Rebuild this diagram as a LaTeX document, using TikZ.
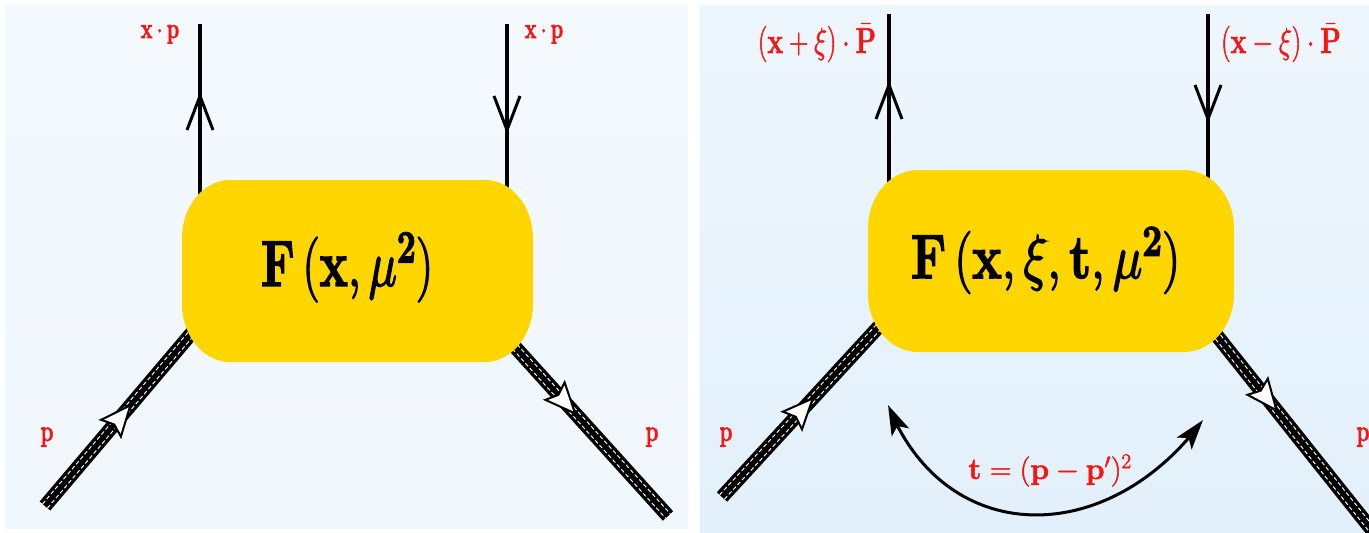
\RequirePackage{fix-cm}
\documentclass[tikz,border=0pt]{standalone}
\usepackage{graphicx}
\usetikzlibrary{arrows.meta,decorations.markings,bending}
\definecolor{blobgold}{RGB}{255,214,0}
\definecolor{bgLt}{RGB}{244,249,254}
\definecolor{bgLb}{RGB}{240,247,253}
\definecolor{bgRt}{RGB}{238,246,253}
\definecolor{bgRb}{RGB}{226,240,251}
\definecolor{lblred}{RGB}{250,20,20}
\newcommand\sqz[2]{\scalebox{#1}[1]{#2}}
\newcommand\fat[2]{\special{pdf:literal direct #1 w 2 Tr}#2\special{pdf:literal direct 0 Tr}}
\tikzset{
  lbl/.style={text=lblred, inner sep=0pt, anchor=base},
  bigtxt/.style={text=black, inner sep=0pt, anchor=center, font=\fontsize{60}{72}\selectfont},
  quark/.style={line width=4.5pt, line cap=butt},
  vmark/.style={postaction={decorate, decoration={markings, mark=at position #1 with {\draw[black, line width=3pt, line cap=butt, miter limit=20] (-34pt,13pt) -- (0pt,0pt) -- (-34pt,-13pt);}}}},
  hadron/.style={line width=14pt, black, line cap=butt,
    postaction={draw=white, line width=7.4pt, dash pattern=on 4pt off 2.5pt},
    postaction={draw=black, line width=5.2pt}},
  tmark/.style={postaction={decorate, decoration={markings, mark=at position #1 with {\draw[draw=black, fill=white, line width=2pt, line join=miter] (0pt,0pt) -- (-30pt,13pt) -- (-25pt,0pt) -- (-30pt,-13pt) -- cycle;}}}},
  blobfill/.style={fill=blobgold}
}
\begin{document}
\begin{tikzpicture}[x=1pt,y=-1pt]
\useasboundingbox (0,0) rectangle (1369,533);
\fill[white] (0,0) rectangle (1369,533);
\shade[top color=bgLt, bottom color=bgLb] (5,5) rectangle (688,528);
\shade[top color=bgRt, bottom color=bgRb] (700,5) rectangle (1369,533);

% ---------------- left panel ----------------
\coordinate (L-qa) at (200,205);
\coordinate (L-qa-end) at (200,24);
\coordinate (L-qb-end) at (507,24);
\coordinate (L-qb) at (507,200);
\coordinate (L-ha-end) at (45,506);
\coordinate (L-ha) at (196,328);
\coordinate (L-hb) at (506,337);
\coordinate (L-hb-end) at (668,516);

\draw[quark, vmark=109pt] (L-qa) -- (L-qa-end);
\draw[quark, vmark=106pt] (L-qb-end) -- (L-qb);
\draw[hadron, tmark=132pt] (L-ha-end) -- (L-ha);
\draw[hadron, tmark=103pt] (L-hb) -- (L-hb-end);

\path[blobfill] (230,180) -- (485,180) .. controls (511.4,180) and (533,206.1) .. (533,238) -- (533,304) .. controls (533,335.9) and (511.4,362) .. (485,362) -- (230,362) .. controls (203.6,362) and (182,335.9) .. (182,304) -- (182,238) .. controls (182,206.1) and (203.6,180) .. (230,180) -- cycle;

\node[bigtxt] (FL) at (347,267.5) {\resizebox*{172pt}{69pt}{\fat{1.6}{$\mathbf{F}\,(\mathbf{x},\mu^{\mathbf{2}})$}}};
\node[lbl, font=\fontsize{29}{34}\selectfont] (xpL) at (160,38) {\sqz{0.68}{\fat{0.7}{$\mathbf{x}\cdot\mathbf{p}$}}};
\node[lbl, font=\fontsize{29}{34}\selectfont] (xpR) at (544,38) {\sqz{0.68}{\fat{0.7}{$\mathbf{x}\cdot\mathbf{p}$}}};
\node[lbl, font=\fontsize{30}{36}\selectfont] (pL1) at (47,441) {\sqz{0.68}{\fat{0.7}{$\mathbf{p}$}}};
\node[lbl, font=\fontsize{30}{36}\selectfont] (pL2) at (652,441) {\sqz{0.68}{\fat{0.7}{$\mathbf{p}$}}};

% ---------------- right panel ----------------
\coordinate (R-qa) at (889,195);
\coordinate (R-qa-end) at (889,14);
\coordinate (R-qb-end) at (1208,14);
\coordinate (R-qb) at (1208,190);
\coordinate (R-ha-end) at (722,497);
\coordinate (R-ha) at (884,321);
\coordinate (R-hb) at (1214,332);
\coordinate (R-hb-end) at (1380,540);

\draw[quark, vmark=110pt] (R-qa) -- (R-qa-end);
\draw[quark, vmark=105pt] (R-qb-end) -- (R-qb);
\draw[hadron, tmark=134pt] (R-ha-end) -- (R-ha);
\draw[hadron, tmark=100pt] (R-hb) -- (R-hb-end);

\path[blobfill] (918,170) -- (1184,170) .. controls (1211.5,170) and (1234,196.1) .. (1234,228) -- (1234,294) .. controls (1234,325.9) and (1211.5,352) .. (1184,352) -- (918,352) .. controls (890.5,352) and (868,325.9) .. (868,294) -- (868,228) .. controls (868,196.1) and (890.5,170) .. (918,170) -- cycle;

\node[bigtxt] (FR) at (1045.5,260.5) {\resizebox*{269pt}{66pt}{\fat{1.6}{$\mathbf{F}\,(\mathbf{x},\xi,\mathbf{t},\mu^{\mathbf{2}})$}}};
\node[lbl, font=\fontsize{36}{43}\selectfont] (xiL) at (817,53) {\sqz{0.74}{\fat{0.6}{$(\mathbf{x}+\xi)\cdot\bar{\mathbf{P}}$}}};
\node[lbl, font=\fontsize{36}{43}\selectfont] (xiR) at (1281,53) {\sqz{0.74}{\fat{0.6}{$(\mathbf{x}-\xi)\cdot\bar{\mathbf{P}}$}}};
\node[lbl, font=\fontsize{30}{36}\selectfont] (pR1) at (726,441) {\sqz{0.68}{\fat{0.7}{$\mathbf{p}$}}};
\node[lbl, font=\fontsize{30}{36}\selectfont] (pR2) at (1363,441) {\sqz{0.68}{\fat{0.7}{$\mathbf{p}$}}};

\coordinate (tL) at (888,405);
\coordinate (tR) at (1203,420);
\draw[line width=3pt, {Stealth[length=30pt,width=19pt,inset=7pt]}-{Stealth[length=30pt,width=19pt,inset=7pt]}] (tL) .. controls (945,549) and (1108,549) .. (tR);
\node[lbl, font=\fontsize{30}{36}\selectfont] (tlab) at (1050,479) {\fat{0.5}{$\mathbf{t}=(\mathbf{p}-\mathbf{p}')^2$}};
\end{tikzpicture}
\end{document}
